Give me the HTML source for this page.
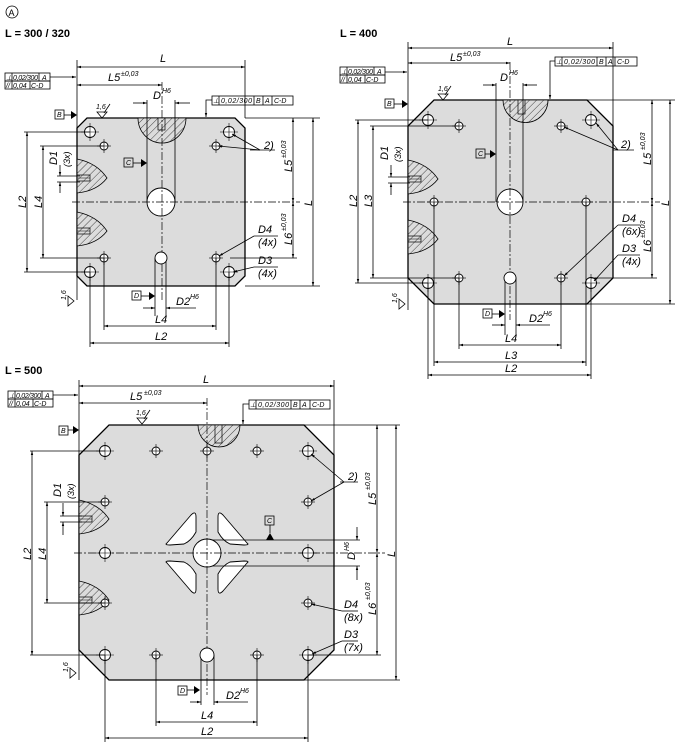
<!DOCTYPE html>
<html><head><meta charset="utf-8"><style>
html,body{margin:0;padding:0;background:#fff;}
svg{display:block;font-family:"Liberation Sans",sans-serif;}
.t{font-style:italic;font-size:11px;fill:#000;}
.s{font-style:italic;font-size:7px;fill:#000;}
.f{font-style:italic;font-size:9px;fill:#000;}
.b{font-weight:bold;font-size:11px;fill:#000;}
.ln{stroke:#000;stroke-width:0.8;fill:none;}
.ol{stroke:#000;stroke-width:1.3;fill:#dcdcdc;}
.h{stroke:#000;stroke-width:0.9;fill:#fff;}
.c{stroke:#000;stroke-width:0.7;fill:none;stroke-dasharray:8 2 2 2;}
</style></head><body>
<svg width="680" height="750" viewBox="0 0 680 750" xmlns="http://www.w3.org/2000/svg">
<defs>
<pattern id="hp" width="5" height="5" patternUnits="userSpaceOnUse" patternTransform="rotate(45)">
<rect width="5" height="5" fill="#dcdcdc"/><line x1="0" y1="0" x2="0" y2="5" stroke="#000" stroke-width="0.7"/></pattern>
<marker id="a" viewBox="0 0 10 10" refX="10" refY="5" markerWidth="7" markerHeight="5" orient="auto-start-reverse"><path d="M0,2 L10,5 L0,8 Z" fill="#000"/></marker>
<g id="blob"><path d="M0,0 Q20,4 30,19 Q20,32 0,34 Z" fill="url(#hp)" stroke="#000" stroke-width="0.8"/><rect x="0" y="16" width="13" height="6" fill="url(#hp)" stroke="#000" stroke-width="0.7"/><line x1="0" y1="19" x2="13" y2="19" stroke="#000" stroke-width="0.5"/></g>
<g id="hl"><circle r="4" class="h"/><line x1="-7" y1="0" x2="7" y2="0" stroke="#000" stroke-width="0.6"/><line x1="0" y1="-7" x2="0" y2="7" stroke="#000" stroke-width="0.6"/></g>
<g id="hb"><circle r="5.5" class="h"/><line x1="-9" y1="0" x2="9" y2="0" stroke="#000" stroke-width="0.6"/><line x1="0" y1="-9" x2="0" y2="9" stroke="#000" stroke-width="0.6"/></g>
<path id="dat" d="M0,-4 L6,0 L0,4 Z"/>
</defs>

<!-- ===== Drawing 1 ===== -->
<circle cx="12" cy="12" r="6" fill="none" stroke="#000" stroke-width="0.8"/><text x="8.5" y="16" font-size="9" fill="#000">A</text>
<text x="5" y="37" class="b">L = 300 / 320</text>
<polygon points="87,118 235,118 245,128 245,276 235,286 87,286 77,276 77,128" class="ol"/>
<path d="M138,118 A24,25 0 0 0 186,118 Z" fill="url(#hp)" stroke="#000" stroke-width="0.8"/>
<rect x="158" y="118" width="7" height="12" fill="url(#hp)" stroke="#000" stroke-width="0.7"/>
<use href="#blob" x="77" y="159"/>
<use href="#blob" x="77" y="212"/>
<line x1="147" y1="100" x2="147" y2="202" class="ln"/><line x1="175" y1="100" x2="175" y2="202" class="ln"/>
<line x1="155" y1="258" x2="155" y2="316" class="ln"/><line x1="166" y1="258" x2="166" y2="316" class="ln"/>
<circle cx="161" cy="202" r="14" class="h"/>
<line x1="72" y1="202" x2="300" y2="202" class="c"/><line x1="162" y1="82" x2="162" y2="300" class="c"/>
<use href="#hb" x="90" y="132"/><use href="#hl" x="104" y="146"/><use href="#hl" x="216" y="146"/><use href="#hb" x="229" y="132"/>
<use href="#hb" x="90" y="272"/><use href="#hl" x="104" y="258"/><use href="#hl" x="216" y="258"/><use href="#hb" x="229" y="272"/>
<circle cx="161" cy="258" r="6" class="h"/>
<line x1="77" y1="60" x2="77" y2="300" class="ln"/><line x1="245" y1="60" x2="245" y2="118" class="ln"/>
<line x1="77" y1="67" x2="245" y2="67" class="ln" marker-start="url(#a)" marker-end="url(#a)"/><text x="160" y="62" class="t">L</text>
<line x1="77" y1="85" x2="162" y2="85" class="ln" marker-start="url(#a)" marker-end="url(#a)"/><text x="108" y="81" class="t">L5</text><text x="121" y="76" class="s">±0,03</text>
<line x1="133" y1="103" x2="147" y2="103" class="ln" marker-end="url(#a)"/><line x1="190" y1="103" x2="175" y2="103" class="ln" marker-end="url(#a)"/><text x="153" y="99" class="t">D</text><text x="162" y="93" class="s">H6</text>
<line x1="245" y1="118" x2="320" y2="118" class="ln"/><line x1="245" y1="286" x2="320" y2="286" class="ln"/><line x1="230" y1="258" x2="297" y2="258" class="ln"/>
<line x1="293" y1="118" x2="293" y2="202" class="ln" marker-start="url(#a)" marker-end="url(#a)"/><line x1="293" y1="202" x2="293" y2="258" class="ln" marker-start="url(#a)" marker-end="url(#a)"/>
<line x1="313" y1="118" x2="313" y2="286" class="ln" marker-start="url(#a)" marker-end="url(#a)"/>
<text transform="translate(292,172) rotate(-90)" class="t">L5</text><text transform="translate(286,158) rotate(-90)" class="s">±0,03</text>
<text transform="translate(292,245) rotate(-90)" class="t">L6</text><text transform="translate(286,231) rotate(-90)" class="s">±0,03</text>
<text transform="translate(312,206) rotate(-90)" class="t">L</text>
<line x1="24" y1="132" x2="90" y2="132" class="ln"/><line x1="24" y1="272" x2="90" y2="272" class="ln"/>
<line x1="40" y1="146" x2="104" y2="146" class="ln"/><line x1="40" y1="258" x2="104" y2="258" class="ln"/>
<line x1="27" y1="132" x2="27" y2="272" class="ln" marker-start="url(#a)" marker-end="url(#a)"/><text transform="translate(26,208) rotate(-90)" class="t">L2</text>
<line x1="43" y1="146" x2="43" y2="258" class="ln" marker-start="url(#a)" marker-end="url(#a)"/><text transform="translate(42,208) rotate(-90)" class="t">L4</text>
<line x1="57" y1="176" x2="80" y2="176" class="ln"/><line x1="57" y1="182" x2="80" y2="182" class="ln"/>
<line x1="60" y1="165" x2="60" y2="176" class="ln" marker-end="url(#a)"/><line x1="60" y1="193" x2="60" y2="182" class="ln" marker-end="url(#a)"/>
<text transform="translate(57,165) rotate(-90)" class="t">D1</text><text transform="translate(70,167) rotate(-90)" class="f">(3x)</text>
<line x1="104" y1="258" x2="104" y2="330" class="ln"/><line x1="216" y1="258" x2="216" y2="330" class="ln"/>
<line x1="90" y1="272" x2="90" y2="347" class="ln"/><line x1="229" y1="272" x2="229" y2="347" class="ln"/>
<line x1="104" y1="326" x2="216" y2="326" class="ln" marker-start="url(#a)" marker-end="url(#a)"/><text x="155" y="323" class="t">L4</text>
<line x1="90" y1="343" x2="229" y2="343" class="ln" marker-start="url(#a)" marker-end="url(#a)"/><text x="155" y="340" class="t">L2</text>
<line x1="143" y1="308" x2="155" y2="308" class="ln" marker-end="url(#a)"/><line x1="196" y1="308" x2="166" y2="308" class="ln" marker-end="url(#a)"/><text x="176" y="305" class="t">D2</text><text x="190" y="299" class="s">H6</text>
<g font-size="7" font-style="italic"><rect x="5" y="73" width="45" height="8" class="ln"/><rect x="5" y="81" width="45" height="8" class="ln"/><line x1="12" y1="73" x2="12" y2="89" class="ln"/><line x1="39" y1="73" x2="39" y2="81" class="ln"/><line x1="30" y1="81" x2="30" y2="89" class="ln"/>
<text x="6" y="80">⊥</text><text x="13" y="80" textLength="25">0,02/300</text><text x="42" y="80">A</text><text x="6" y="88">//</text><text x="13" y="88">0,04</text><text x="31" y="88">C-D</text>
<line x1="50" y1="77" x2="76" y2="77" class="ln" marker-end="url(#a)"/>
<rect x="212" y="96" width="81" height="9" class="ln"/><line x1="219" y1="96" x2="219" y2="105" class="ln"/><line x1="254" y1="96" x2="254" y2="105" class="ln"/><line x1="263" y1="96" x2="263" y2="105" class="ln"/><line x1="272" y1="96" x2="272" y2="105" class="ln"/>
<text x="213" y="103">⊥</text><text x="221" y="103" textLength="31">0,02/300</text><text x="256" y="103">B</text><text x="265" y="103">A</text><text x="274" y="103">C-D</text>
<path d="M212,100 H206 V117" class="ln" marker-end="url(#a)"/>
<rect x="55" y="110" width="9" height="9" class="ln"/><text x="57" y="117">B</text><line x1="64" y1="115" x2="71" y2="115" class="ln"/><use href="#dat" x="71" y="115"/>
<rect x="124" y="158" width="9" height="9" class="ln"/><text x="126" y="165">C</text><line x1="133" y1="163" x2="141" y2="163" class="ln"/><use href="#dat" x="141" y="163"/>
<rect x="132" y="291" width="9" height="9" class="ln"/><text x="134" y="298">D</text><line x1="141" y1="296" x2="149" y2="296" class="ln"/><use href="#dat" x="149" y="296"/>
<text x="96" y="109">1,6</text><path d="M97,112 L102,118 L107,112 Z M104,113 L110,104" class="ln"/>
<text transform="translate(66,300) rotate(-90)">1,6</text><path d="M68,296 L74,301 L68,306 Z" class="ln"/>
</g>
<text x="264" y="149" class="t">2)</text><line x1="250" y1="150" x2="275" y2="150" class="ln"/>
<line x1="260" y1="150" x2="232" y2="134" class="ln" marker-end="url(#a)"/><line x1="260" y1="150" x2="218" y2="146" class="ln" marker-end="url(#a)"/>
<text x="258" y="233" class="t">D4</text><text x="258" y="246" class="t">(4x)</text><line x1="254" y1="236" x2="278" y2="236" class="ln"/><line x1="254" y1="236" x2="219" y2="256" class="ln" marker-end="url(#a)"/>
<text x="258" y="264" class="t">D3</text><text x="258" y="277" class="t">(4x)</text><line x1="254" y1="267" x2="278" y2="267" class="ln"/><line x1="254" y1="267" x2="233" y2="272" class="ln" marker-end="url(#a)"/>

<!-- ===== Drawing 2 ===== -->
<text x="340" y="37" class="b">L = 400</text>
<polygon points="434,100 587,100 613,126 613,278 587,304 434,304 408,278 408,126" class="ol"/>
<path d="M503,100 A22,22 0 0 0 548,100 Z" fill="url(#hp)" stroke="#000" stroke-width="0.8"/>
<rect x="518" y="100" width="7" height="14" fill="url(#hp)" stroke="#000" stroke-width="0.7"/>
<use href="#blob" x="408" y="160"/><use href="#blob" x="408" y="220"/>
<line x1="496" y1="83" x2="496" y2="202" class="ln"/><line x1="523" y1="83" x2="523" y2="202" class="ln"/>
<line x1="505" y1="278" x2="505" y2="335" class="ln"/><line x1="516" y1="278" x2="516" y2="335" class="ln"/>
<circle cx="510" cy="202" r="13" class="h"/>
<line x1="403" y1="202" x2="660" y2="202" class="c"/><line x1="510" y1="62" x2="510" y2="320" class="c"/>
<use href="#hb" x="428" y="120"/><use href="#hl" x="459" y="126"/><use href="#hl" x="561" y="126"/><use href="#hb" x="591" y="120"/>
<use href="#hl" x="434" y="202"/><use href="#hl" x="586" y="202"/>
<use href="#hb" x="428" y="283"/><use href="#hl" x="459" y="278"/><use href="#hl" x="561" y="278"/><use href="#hb" x="591" y="283"/>
<circle cx="510" cy="278" r="6" class="h"/>
<line x1="408" y1="42" x2="408" y2="310" class="ln"/><line x1="613" y1="42" x2="613" y2="126" class="ln"/>
<line x1="408" y1="48" x2="613" y2="48" class="ln" marker-start="url(#a)" marker-end="url(#a)"/><text x="507" y="45" class="t">L</text>
<line x1="408" y1="63" x2="510" y2="63" class="ln" marker-start="url(#a)" marker-end="url(#a)"/><text x="450" y="61" class="t">L5</text><text x="463" y="56" class="s">±0,03</text>
<line x1="483" y1="85" x2="496" y2="85" class="ln" marker-end="url(#a)"/><line x1="537" y1="85" x2="523" y2="85" class="ln" marker-end="url(#a)"/><text x="500" y="81" class="t">D</text><text x="509" y="75" class="s">H6</text>
<line x1="587" y1="100" x2="675" y2="100" class="ln"/><line x1="587" y1="304" x2="675" y2="304" class="ln"/><line x1="591" y1="278" x2="657" y2="278" class="ln"/>
<line x1="652" y1="100" x2="652" y2="202" class="ln" marker-start="url(#a)" marker-end="url(#a)"/><line x1="652" y1="202" x2="652" y2="278" class="ln" marker-start="url(#a)" marker-end="url(#a)"/>
<line x1="670" y1="100" x2="670" y2="304" class="ln" marker-start="url(#a)" marker-end="url(#a)"/>
<text transform="translate(651,165) rotate(-90)" class="t">L5</text><text transform="translate(645,150) rotate(-90)" class="s">±0,03</text>
<text transform="translate(651,252) rotate(-90)" class="t">L6</text><text transform="translate(645,238) rotate(-90)" class="s">±0,03</text>
<text transform="translate(669,206) rotate(-90)" class="t">L</text>
<line x1="355" y1="120" x2="428" y2="120" class="ln"/><line x1="355" y1="283" x2="428" y2="283" class="ln"/>
<line x1="370" y1="126" x2="459" y2="126" class="ln"/><line x1="370" y1="278" x2="459" y2="278" class="ln"/>
<line x1="358" y1="120" x2="358" y2="283" class="ln" marker-start="url(#a)" marker-end="url(#a)"/><text transform="translate(357,207) rotate(-90)" class="t">L2</text>
<line x1="373" y1="126" x2="373" y2="278" class="ln" marker-start="url(#a)" marker-end="url(#a)"/><text transform="translate(372,207) rotate(-90)" class="t">L3</text>
<line x1="388" y1="177" x2="410" y2="177" class="ln"/><line x1="388" y1="183" x2="410" y2="183" class="ln"/>
<line x1="391" y1="165" x2="391" y2="177" class="ln" marker-end="url(#a)"/><line x1="391" y1="195" x2="391" y2="183" class="ln" marker-end="url(#a)"/>
<text transform="translate(388,160) rotate(-90)" class="t">D1</text><text transform="translate(401,162) rotate(-90)" class="f">(3x)</text>
<line x1="459" y1="278" x2="459" y2="349" class="ln"/><line x1="561" y1="278" x2="561" y2="349" class="ln"/>
<line x1="434" y1="202" x2="434" y2="366" class="ln"/><line x1="586" y1="202" x2="586" y2="366" class="ln"/>
<line x1="428" y1="283" x2="428" y2="379" class="ln"/><line x1="591" y1="283" x2="591" y2="379" class="ln"/>
<line x1="459" y1="345" x2="561" y2="345" class="ln" marker-start="url(#a)" marker-end="url(#a)"/><text x="505" y="342" class="t">L4</text>
<line x1="434" y1="362" x2="586" y2="362" class="ln" marker-start="url(#a)" marker-end="url(#a)"/><text x="505" y="359" class="t">L3</text>
<line x1="428" y1="375" x2="591" y2="375" class="ln" marker-start="url(#a)" marker-end="url(#a)"/><text x="505" y="372" class="t">L2</text>
<line x1="492" y1="325" x2="505" y2="325" class="ln" marker-end="url(#a)"/><line x1="550" y1="325" x2="516" y2="325" class="ln" marker-end="url(#a)"/><text x="529" y="322" class="t">D2</text><text x="543" y="316" class="s">H6</text>
<g font-size="7" font-style="italic"><rect x="340" y="67" width="45" height="8" class="ln"/><rect x="340" y="75" width="45" height="8" class="ln"/><line x1="347" y1="67" x2="347" y2="83" class="ln"/><line x1="374" y1="67" x2="374" y2="75" class="ln"/><line x1="365" y1="75" x2="365" y2="83" class="ln"/>
<text x="341" y="74">⊥</text><text x="348" y="74" textLength="25">0,02/300</text><text x="377" y="74">A</text><text x="341" y="82">//</text><text x="348" y="82">0,04</text><text x="366" y="82">C-D</text>
<line x1="385" y1="72" x2="407" y2="72" class="ln" marker-end="url(#a)"/>
<rect x="555" y="57" width="82" height="9" class="ln"/><line x1="562" y1="57" x2="562" y2="66" class="ln"/><line x1="597" y1="57" x2="597" y2="66" class="ln"/><line x1="606" y1="57" x2="606" y2="66" class="ln"/><line x1="615" y1="57" x2="615" y2="66" class="ln"/>
<text x="556" y="64">⊥</text><text x="564" y="64" textLength="31">0,02/300</text><text x="599" y="64">B</text><text x="608" y="64">A</text><text x="617" y="64">C-D</text>
<path d="M555,61 H550 V99" class="ln" marker-end="url(#a)"/>
<rect x="385" y="99" width="9" height="9" class="ln"/><text x="387" y="106">B</text><line x1="394" y1="104" x2="402" y2="104" class="ln"/><use href="#dat" x="402" y="104"/>
<rect x="476" y="149" width="9" height="9" class="ln"/><text x="478" y="156">C</text><line x1="485" y1="154" x2="490" y2="154" class="ln"/><use href="#dat" x="490" y="154"/>
<rect x="483" y="309" width="9" height="9" class="ln"/><text x="485" y="316">D</text><line x1="492" y1="314" x2="499" y2="314" class="ln"/><use href="#dat" x="499" y="314"/>
<text x="438" y="91">1,6</text><path d="M438,94 L443,100 L448,94 Z M445,95 L451,86" class="ln"/>
<text transform="translate(397,303) rotate(-90)">1,6</text><path d="M399,299 L405,304 L399,309 Z" class="ln"/>
</g>
<text x="621" y="148" class="t">2)</text><line x1="613" y1="150" x2="634" y2="150" class="ln"/>
<line x1="618" y1="150" x2="596" y2="123" class="ln" marker-end="url(#a)"/><line x1="618" y1="150" x2="564" y2="127" class="ln" marker-end="url(#a)"/>
<text x="622" y="222" class="t">D4</text><text x="622" y="235" class="t">(6x)</text><line x1="618" y1="225" x2="640" y2="225" class="ln"/><line x1="618" y1="225" x2="564" y2="276" class="ln" marker-end="url(#a)"/>
<text x="622" y="252" class="t">D3</text><text x="622" y="265" class="t">(4x)</text><line x1="618" y1="255" x2="640" y2="255" class="ln"/><line x1="618" y1="255" x2="594" y2="281" class="ln" marker-end="url(#a)"/>

<!-- ===== Drawing 3 ===== -->
<text x="5" y="374" class="b">L = 500</text>
<polygon points="109,425 304,425 334,455 334,650 304,680 109,680 79,650 79,455" class="ol"/>
<path d="M198,425 A21,22 0 0 0 240,425 Z" fill="url(#hp)" stroke="#000" stroke-width="0.8"/>
<rect x="215" y="425" width="7" height="18" fill="url(#hp)" stroke="#000" stroke-width="0.7"/>
<use href="#blob" x="79" y="500"/><use href="#blob" x="79" y="581"/>
<g fill="#fff" stroke="#000" stroke-width="0.9">
<path id="sl" d="M167,543 L191,515 Q196,510 196,517 L196,532 Q191,541 184,544 L170,545 Q164,545 167,543 Z"/>
<use href="#sl" transform="translate(414,0) scale(-1,1)"/>
<use href="#sl" transform="translate(0,1106) scale(1,-1)"/>
<use href="#sl" transform="translate(414,1106) scale(-1,-1)"/>
</g>
<line x1="210" y1="540" x2="360" y2="540" class="ln"/><line x1="210" y1="566" x2="360" y2="566" class="ln"/>
<line x1="201" y1="655" x2="201" y2="705" class="ln"/><line x1="214" y1="655" x2="214" y2="705" class="ln"/>
<circle cx="207" cy="553" r="14" class="h"/>
<line x1="74" y1="553" x2="385" y2="553" class="c"/><line x1="207" y1="398" x2="207" y2="695" class="c"/>
<use href="#hb" x="105" y="451"/><use href="#hl" x="156" y="451"/><use href="#hl" x="207" y="451"/><use href="#hl" x="257" y="451"/><use href="#hb" x="308" y="451"/>
<use href="#hl" x="105" y="502"/><use href="#hl" x="308" y="502"/>
<use href="#hb" x="105" y="553"/><use href="#hb" x="308" y="553"/>
<use href="#hl" x="105" y="603"/><use href="#hl" x="308" y="603"/>
<use href="#hb" x="105" y="655"/><use href="#hl" x="156" y="655"/><use href="#hl" x="257" y="655"/><use href="#hb" x="308" y="655"/>
<circle cx="207" cy="655" r="7" class="h"/>
<line x1="79" y1="380" x2="79" y2="680" class="ln"/><line x1="334" y1="380" x2="334" y2="455" class="ln"/>
<line x1="79" y1="386" x2="334" y2="386" class="ln" marker-start="url(#a)" marker-end="url(#a)"/><text x="203" y="383" class="t">L</text>
<line x1="79" y1="403" x2="207" y2="403" class="ln" marker-start="url(#a)" marker-end="url(#a)"/><text x="130" y="400" class="t">L5</text><text x="144" y="395" class="s">±0,03</text>
<line x1="304" y1="425" x2="400" y2="425" class="ln"/><line x1="304" y1="680" x2="400" y2="680" class="ln"/><line x1="308" y1="655" x2="381" y2="655" class="ln"/>
<line x1="377" y1="425" x2="377" y2="553" class="ln" marker-start="url(#a)" marker-end="url(#a)"/><line x1="377" y1="553" x2="377" y2="655" class="ln" marker-start="url(#a)" marker-end="url(#a)"/>
<line x1="396" y1="425" x2="396" y2="680" class="ln" marker-start="url(#a)" marker-end="url(#a)"/>
<text transform="translate(376,505) rotate(-90)" class="t">L5</text><text transform="translate(370,490) rotate(-90)" class="s">±0,03</text>
<text transform="translate(376,615) rotate(-90)" class="t">L6</text><text transform="translate(370,600) rotate(-90)" class="s">±0,03</text>
<text transform="translate(395,557) rotate(-90)" class="t">L</text>
<line x1="357" y1="527" x2="357" y2="540" class="ln" marker-end="url(#a)"/><line x1="357" y1="580" x2="357" y2="566" class="ln" marker-end="url(#a)"/>
<text transform="translate(355,560) rotate(-90)" class="t">D</text><text transform="translate(349,551) rotate(-90)" class="s">H6</text>
<line x1="30" y1="451" x2="105" y2="451" class="ln"/><line x1="30" y1="655" x2="105" y2="655" class="ln"/>
<line x1="44" y1="502" x2="105" y2="502" class="ln"/><line x1="44" y1="603" x2="105" y2="603" class="ln"/>
<line x1="32" y1="451" x2="32" y2="655" class="ln" marker-start="url(#a)" marker-end="url(#a)"/><text transform="translate(31,560) rotate(-90)" class="t">L2</text>
<line x1="47" y1="502" x2="47" y2="603" class="ln" marker-start="url(#a)" marker-end="url(#a)"/><text transform="translate(46,560) rotate(-90)" class="t">L4</text>
<line x1="60" y1="516" x2="82" y2="516" class="ln"/><line x1="60" y1="522" x2="82" y2="522" class="ln"/>
<line x1="63" y1="503" x2="63" y2="516" class="ln" marker-end="url(#a)"/><line x1="63" y1="535" x2="63" y2="522" class="ln" marker-end="url(#a)"/>
<text transform="translate(61,497) rotate(-90)" class="t">D1</text><text transform="translate(74,499) rotate(-90)" class="f">(3x)</text>
<line x1="156" y1="655" x2="156" y2="726" class="ln"/><line x1="257" y1="655" x2="257" y2="726" class="ln"/>
<line x1="105" y1="655" x2="105" y2="742" class="ln"/><line x1="308" y1="655" x2="308" y2="742" class="ln"/>
<line x1="156" y1="722" x2="257" y2="722" class="ln" marker-start="url(#a)" marker-end="url(#a)"/><text x="201" y="719" class="t">L4</text>
<line x1="105" y1="738" x2="308" y2="738" class="ln" marker-start="url(#a)" marker-end="url(#a)"/><text x="201" y="735" class="t">L2</text>
<line x1="190" y1="702" x2="201" y2="702" class="ln" marker-end="url(#a)"/><line x1="248" y1="702" x2="214" y2="702" class="ln" marker-end="url(#a)"/><text x="226" y="699" class="t">D2</text><text x="240" y="693" class="s">H6</text>
<g font-size="7" font-style="italic"><rect x="8" y="391" width="45" height="8" class="ln"/><rect x="8" y="399" width="45" height="8" class="ln"/><line x1="15" y1="391" x2="15" y2="407" class="ln"/><line x1="42" y1="391" x2="42" y2="399" class="ln"/><line x1="33" y1="399" x2="33" y2="407" class="ln"/>
<text x="9" y="398">⊥</text><text x="16" y="398" textLength="25">0,02/300</text><text x="45" y="398">A</text><text x="9" y="406">//</text><text x="16" y="406">0,04</text><text x="34" y="406">C-D</text>
<line x1="53" y1="395" x2="78" y2="395" class="ln" marker-end="url(#a)"/>
<rect x="249" y="400" width="81" height="9" class="ln"/><line x1="256" y1="400" x2="256" y2="409" class="ln"/><line x1="291" y1="400" x2="291" y2="409" class="ln"/><line x1="300" y1="400" x2="300" y2="409" class="ln"/><line x1="310" y1="400" x2="310" y2="409" class="ln"/>
<text x="250" y="407">⊥</text><text x="258" y="407" textLength="31">0,02/300</text><text x="293" y="407">B</text><text x="302" y="407">A</text><text x="312" y="407">C-D</text>
<path d="M249,404 H243 V424" class="ln" marker-end="url(#a)"/>
<rect x="59" y="426" width="9" height="9" class="ln"/><text x="61" y="433">B</text><line x1="68" y1="430" x2="73" y2="430" class="ln"/><use href="#dat" x="73" y="430"/>
<rect x="265" y="516" width="9" height="9" class="ln"/><text x="267" y="523">C</text><line x1="270" y1="525" x2="270" y2="533" class="ln"/><path d="M266,540 L270,533 L274,540 Z"/>
<rect x="178" y="686" width="9" height="9" class="ln"/><text x="180" y="693">D</text><line x1="187" y1="690" x2="194" y2="690" class="ln"/><use href="#dat" x="194" y="690"/>
<text x="136" y="415">1,6</text><path d="M137,418 L142,424 L147,418 Z M144,419 L150,410" class="ln"/>
<text transform="translate(68,672) rotate(-90)">1,6</text><path d="M70,668 L76,673 L70,678 Z" class="ln"/>
</g>
<text x="348" y="480" class="t">2)</text><line x1="340" y1="482" x2="358" y2="482" class="ln"/>
<line x1="344" y1="482" x2="311" y2="454" class="ln" marker-end="url(#a)"/><line x1="344" y1="482" x2="311" y2="501" class="ln" marker-end="url(#a)"/>
<text x="344" y="608" class="t">D4</text><text x="344" y="621" class="t">(8x)</text><line x1="342" y1="611" x2="358" y2="611" class="ln"/><line x1="342" y1="611" x2="311" y2="604" class="ln" marker-end="url(#a)"/>
<text x="344" y="638" class="t">D3</text><text x="344" y="651" class="t">(7x)</text><line x1="342" y1="641" x2="358" y2="641" class="ln"/><line x1="342" y1="641" x2="312" y2="654" class="ln" marker-end="url(#a)"/>
</svg>
</body></html>
